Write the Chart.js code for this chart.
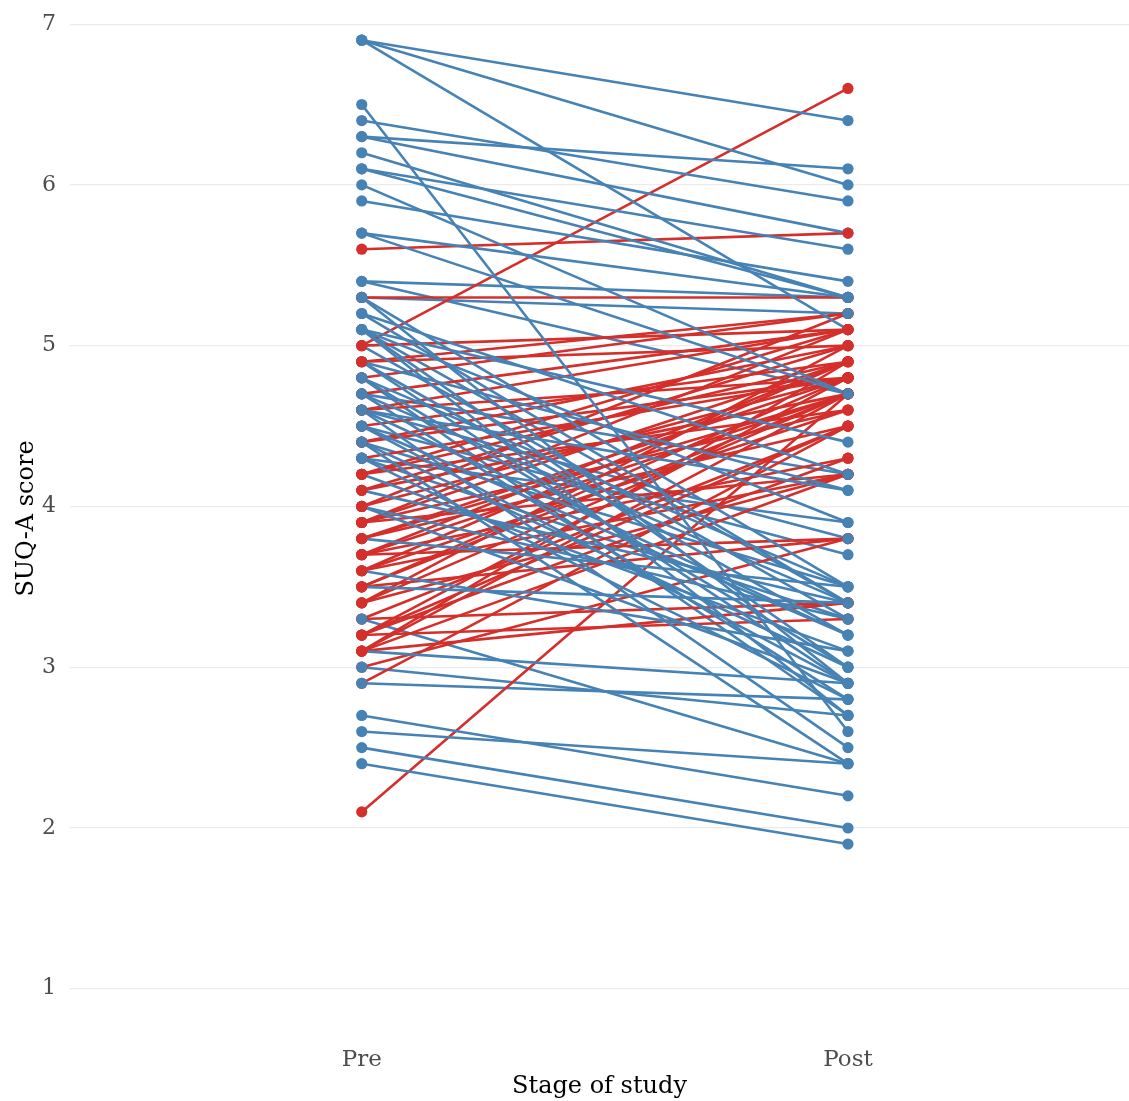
<!DOCTYPE html>
<html><head><meta charset="utf-8">
<script src="https://cdn.jsdelivr.net/npm/chart.js@4/dist/chart.umd.min.js"></script>
<style>html,body{margin:0;padding:0;background:#fff}#wrap{width:1129px;height:1101px}</style>
</head><body>
<div id="wrap"><canvas id="c" width="1129" height="1101"></canvas></div>
<script>
const stages = ["Pre", "Post"];
const yTicks = [1, 2, 3, 4, 5, 6, 7];
const xTitle = "Stage of study";
const yTitle = "SUQ-A score";

// one entry per participant (drawing order)
const preScores = [
  6.9, 6.9, 6.9, 6.5, 6.4, 6.3, 6.3, 6.2, 6.1, 6.1, 6.0, 5.9, 5.7, 5.7, 5.3, 5.3, 5.2, 5.1, 5.1, 5.1,
  5.1, 5.0, 4.9, 4.9, 4.9, 4.8, 4.7, 4.7, 4.6, 4.6, 4.5, 4.4, 4.4, 4.3, 4.2, 4.1, 4.0, 4.0, 3.8, 3.6,
  3.5, 3.1, 2.7, 2.6, 2.5, 2.4, 5.2, 4.8, 4.6, 4.5,
  5.0, 5.6, 5.3, 5.0, 4.9, 4.9, 4.6, 4.5, 4.4, 4.3, 4.2, 4.2, 4.1, 4.1, 4.0, 4.0, 3.9, 3.9, 3.9, 3.8,
  3.8, 3.7, 3.7, 3.7, 3.6, 3.6, 3.6, 3.5, 3.5, 3.4, 3.4, 3.3, 3.3, 3.2, 3.2, 3.2, 3.1, 3.1, 3.1, 3.0,
  2.9, 2.1, 4.6, 4.4, 3.9, 4.7, 3.4, 4.8, 3.5, 3.7, 3.8, 3.2, 3.1, 4.2,
  5.3, 5.4, 5.4, 4.8, 4.7, 4.6, 4.5, 4.4, 4.3, 4.3, 3.3, 3.0, 2.9, 5.1
];
const postScores = [
  6.4, 6.0, 5.1, 2.6, 5.9, 6.1, 5.7, 5.3, 5.6, 5.3, 4.7, 5.4, 5.3, 4.7, 3.5, 2.9, 4.2, 4.4, 3.9, 3.0,
  2.7, 3.3, 4.1, 3.2, 2.9, 3.5, 3.4, 2.8, 3.2, 2.5, 2.9, 3.0, 2.4, 2.8, 3.1, 3.4, 3.3, 2.9, 3.5, 3.1,
  3.4, 2.9, 2.2, 2.4, 2.0, 1.9, 3.4, 3.0, 4.1, 3.2,
  6.6, 5.7, 5.3, 5.1, 5.2, 5.0, 5.1, 4.9, 5.0, 4.8, 4.9, 5.1, 4.7, 5.0, 4.8, 5.2, 4.6, 5.1, 4.2, 4.8,
  4.5, 4.7, 4.3, 3.8, 4.9, 4.6, 4.2, 4.8, 3.8, 4.7, 4.2, 4.5, 3.4, 4.8, 4.3, 3.3, 4.7, 4.2, 3.4, 3.8,
  4.5, 4.7, 4.8, 4.8, 4.9, 5.1, 5.0, 5.2, 4.7, 4.9, 4.7, 4.5, 4.9, 4.6,
  5.2, 5.3, 4.7, 2.7, 4.2, 3.8, 3.7, 3.5, 3.9, 3.3, 2.4, 2.7, 2.8, 3.4
];

const BLUE = "#4682B4";
const RED = "#D52F2B";
const colorOf = i => (postScores[i] >= preScores[i] ? RED : BLUE);

const datasets = [];
for (let i = 0; i < preScores.length; i++) {
  datasets.push({
    data: [{x: 1, y: preScores[i]}, {x: 2, y: postScores[i]}],
    showLine: true,
    borderColor: colorOf(i),
    borderWidth: 2.6,
    pointRadius: 0,
    order: 1
  });
}
const pts = [], ptCols = [];
for (let i = 0; i < preScores.length; i++) {
  pts.push({x: 1, y: preScores[i]}); ptCols.push(colorOf(i));
  pts.push({x: 2, y: postScores[i]}); ptCols.push(colorOf(i));
}
datasets.push({
  data: pts,
  showLine: false,
  pointRadius: 5.6,
  pointBorderWidth: 0,
  pointBackgroundColor: ptCols,
  pointBorderColor: ptCols,
  order: 0
});

const FONT = "'DejaVu Serif', serif";
new Chart(document.getElementById('c'), {
  type: 'scatter',
  data: {datasets},
  options: {
    responsive: false,
    devicePixelRatio: 1,
    animation: false,
    layout: {padding: 0, autoPadding: false},
    plugins: {legend: {display: false}, tooltip: {enabled: false}},
    scales: {
      x: {
        type: 'linear', min: 0.4, max: 2.578,
        afterBuildTicks: s => { s.ticks = stages.map((_, i) => ({value: i + 1})); },
        afterFit: s => { s.height = 64; s.paddingLeft = 0; s.paddingRight = 0; },
        ticks: {callback: v => stages[v - 1] || '', color: '#4D4D4D', padding: 9,
                font: {family: FONT, size: 23}},
        grid: {display: false, drawTicks: false},
        border: {display: false},
        title: {display: true, text: xTitle, color: '#000', padding: {top: 0, bottom: 0},
                font: {family: FONT, size: 24}}
      },
      y: {
        type: 'linear', min: 0.7, max: 7.15,
        afterBuildTicks: s => { s.ticks = yTicks.map(v => ({value: v})); },
        afterFit: s => { s.width = 70; s.paddingTop = 0; s.paddingBottom = 0; },
        ticks: {color: '#4D4D4D', padding: 14, font: {family: FONT, size: 22}},
        grid: {color: '#EBEBEB', lineWidth: 1.2, drawTicks: false},
        border: {display: false},
        title: {display: true, text: yTitle, color: '#000', padding: {top: 12, bottom: 0},
                font: {family: FONT, size: 24}}
      }
    }
  }
});
</script>
</body></html>
